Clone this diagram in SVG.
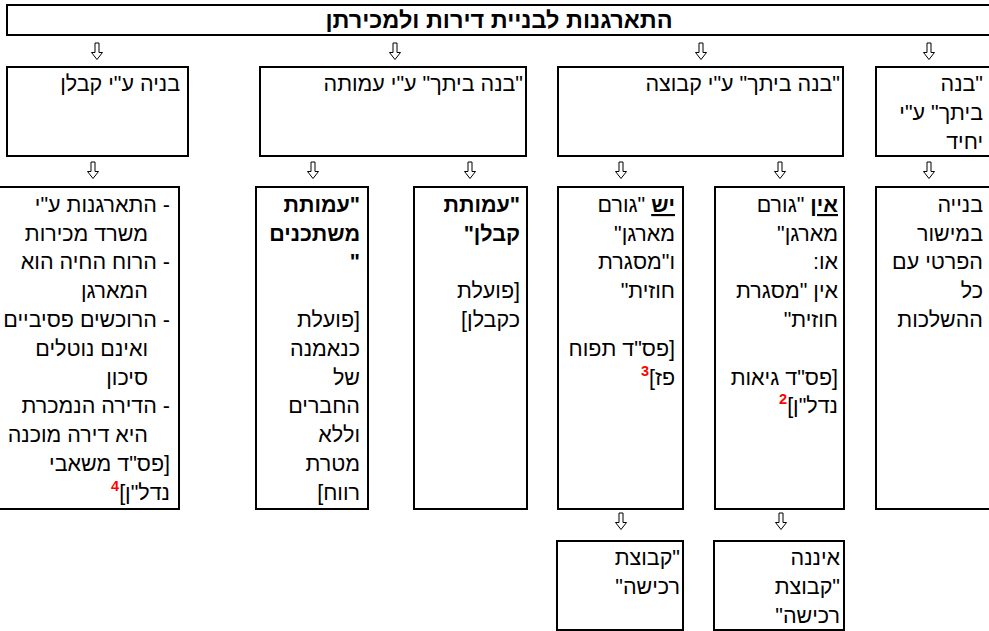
<svg xmlns="http://www.w3.org/2000/svg" width="989" height="631" viewBox="0 0 989 631">
<style>
.box{fill:none;stroke:#000;stroke-width:2}
.t{font-family:"Liberation Sans","DejaVu Sans",sans-serif;font-size:21.5px;fill:#000;direction:rtl;unicode-bidi:embed;text-anchor:start}
.title{font-family:"Liberation Sans","DejaVu Sans",sans-serif;font-size:23.5px;font-weight:bold;fill:#000;direction:rtl;text-anchor:middle}
.b{font-weight:bold}
.u{font-weight:bold;text-decoration:underline}
.sup{fill:#ff0000;font-weight:bold;font-size:14.5px}
.arr{fill:#fff;stroke:#000;stroke-width:1}
</style>
<defs>
<path id="ar" class="arr" d="M-2,0 L2,0 L2,9.5 L5.5,9.5 L0,16.5 L-5.5,9.5 L-2,9.5 Z"/>
</defs>
<rect width="989" height="631" fill="#fff"/>

<g id="header">
<rect class="box" x="7" y="5" width="990" height="30"/>
<text class="title" x="499" y="28">התארגנות לבניית דירות ולמכירתן</text>
</g>

<g id="connectors">
<use href="#ar" x="97" y="43"/>
<use href="#ar" x="395" y="43"/>
<use href="#ar" x="701" y="43"/>
<use href="#ar" x="929" y="43"/>
<use href="#ar" x="93" y="162"/>
<use href="#ar" x="313" y="162"/>
<use href="#ar" x="470" y="162"/>
<use href="#ar" x="621" y="162"/>
<use href="#ar" x="780" y="162"/>
<use href="#ar" x="929" y="162"/>
<use href="#ar" x="621" y="513"/>
<use href="#ar" x="781" y="513"/>
</g>

<g id="n-kablan">
<rect class="box" x="7" y="67" width="181" height="89"/>
<text class="t" x="180" y="91">בניה ע"י קבלן</text>
</g>

<g id="n-amuta">
<rect class="box" x="260" y="67" width="266" height="89"/>
<text class="t" x="523" y="91">"בנה ביתך" ע"י עמותה</text>
</g>

<g id="n-kvutza">
<rect class="box" x="558" y="67" width="285" height="89"/>
<text class="t" x="840" y="91">"בנה ביתך" ע"י קבוצה</text>
</g>

<g id="n-yachid">
<rect class="box" x="876" y="67" width="130" height="89"/>
<text class="t"><tspan x="983" y="91">"בנה</tspan><tspan x="983" y="120">ביתך" ע"י</tspan><tspan x="983" y="149">יחיד</tspan></text>
</g>

<g id="n-kablan-details">
<rect class="box" x="-3" y="187" width="182" height="322"/>
<text class="t">
<tspan x="170" y="212">- התארגנות ע"י</tspan>
<tspan x="148" y="240.5">משרד מכירות</tspan>
<tspan x="170" y="269">- הרוח החיה הוא</tspan>
<tspan x="148" y="298">המארגן</tspan>
<tspan x="170" y="327">- הרוכשים פסיביים</tspan>
<tspan x="148" y="356">ואינם נוטלים</tspan>
<tspan x="148" y="384.5">סיכון</tspan>
<tspan x="170" y="413">- הדירה הנמכרת</tspan>
<tspan x="148" y="442">היא דירה מוכנה</tspan>
<tspan x="170" y="471">[פס"ד משאבי</tspan>
<tspan x="170" y="500">נדל"ן]<tspan class="sup" dy="-9">4</tspan></tspan>
</text>
</g>

<g id="n-amutat-mishtaknim">
<rect class="box" x="256" y="187" width="112" height="322"/>
<text class="t">
<tspan class="b" x="360" y="212">"עמותת</tspan>
<tspan class="b" x="360" y="240.5">משתכנים</tspan>
<tspan class="b" x="360" y="269">"</tspan>
<tspan x="360" y="327">[פועלת</tspan>
<tspan x="360" y="356">כנאמנה</tspan>
<tspan x="360" y="384.5">של</tspan>
<tspan x="360" y="413">החברים</tspan>
<tspan x="360" y="442">וללא</tspan>
<tspan x="360" y="471">מטרת</tspan>
<tspan x="360" y="500">רווח]</tspan>
</text>
</g>

<g id="n-amutat-kablan">
<rect class="box" x="414" y="187" width="113" height="322"/>
<text class="t">
<tspan class="b" x="520" y="212">"עמותת</tspan>
<tspan class="b" x="520" y="240.5">קבלן"</tspan>
<tspan x="520" y="298">[פועלת</tspan>
<tspan x="520" y="327">כקבלן]</tspan>
</text>
</g>

<g id="n-yesh">
<rect class="box" x="558" y="187" width="125" height="322"/>
<text class="t">
<tspan x="675" y="212"><tspan class="u">יש</tspan> "גורם</tspan>
<tspan x="675" y="240.5">מארגן"</tspan>
<tspan x="675" y="269">ו"מסגרת</tspan>
<tspan x="675" y="298">חוזית"</tspan>
<tspan x="675" y="356">[פס"ד תפוח</tspan>
<tspan x="675" y="384.5">פז]<tspan class="sup" dy="-9">3</tspan></tspan>
</text>
</g>

<g id="n-ein">
<rect class="box" x="715" y="187" width="129" height="322"/>
<text class="t">
<tspan x="838" y="212"><tspan class="u">אין</tspan> "גורם</tspan>
<tspan x="838" y="240.5">מארגן"</tspan>
<tspan x="838" y="269">או:</tspan>
<tspan x="838" y="298">אין "מסגרת</tspan>
<tspan x="838" y="327">חוזית"</tspan>
<tspan x="838" y="384.5">[פס"ד גיאות</tspan>
<tspan x="838" y="413">נדל"ן]<tspan class="sup" dy="-9">2</tspan></tspan>
</text>
</g>

<g id="n-mishor">
<rect class="box" x="876" y="187" width="130" height="322"/>
<text class="t">
<tspan x="983" y="212">בנייה</tspan>
<tspan x="983" y="240.5">במישור</tspan>
<tspan x="983" y="269">הפרטי עם</tspan>
<tspan x="983" y="298">כל</tspan>
<tspan x="983" y="327">ההשלכות</tspan>
</text>
</g>

<g id="n-kvutzat-rechisha">
<rect class="box" x="557" y="541" width="126" height="89"/>
<text class="t"><tspan x="680" y="565">"קבוצת</tspan><tspan x="680" y="594">רכישה"</tspan></text>
</g>

<g id="n-eina-kvutzat-rechisha">
<rect class="box" x="714" y="541" width="130" height="89"/>
<text class="t"><tspan x="840" y="565">איננה</tspan><tspan x="840" y="594">"קבוצת</tspan><tspan x="840" y="623">רכישה"</tspan></text>
</g>
</svg>
